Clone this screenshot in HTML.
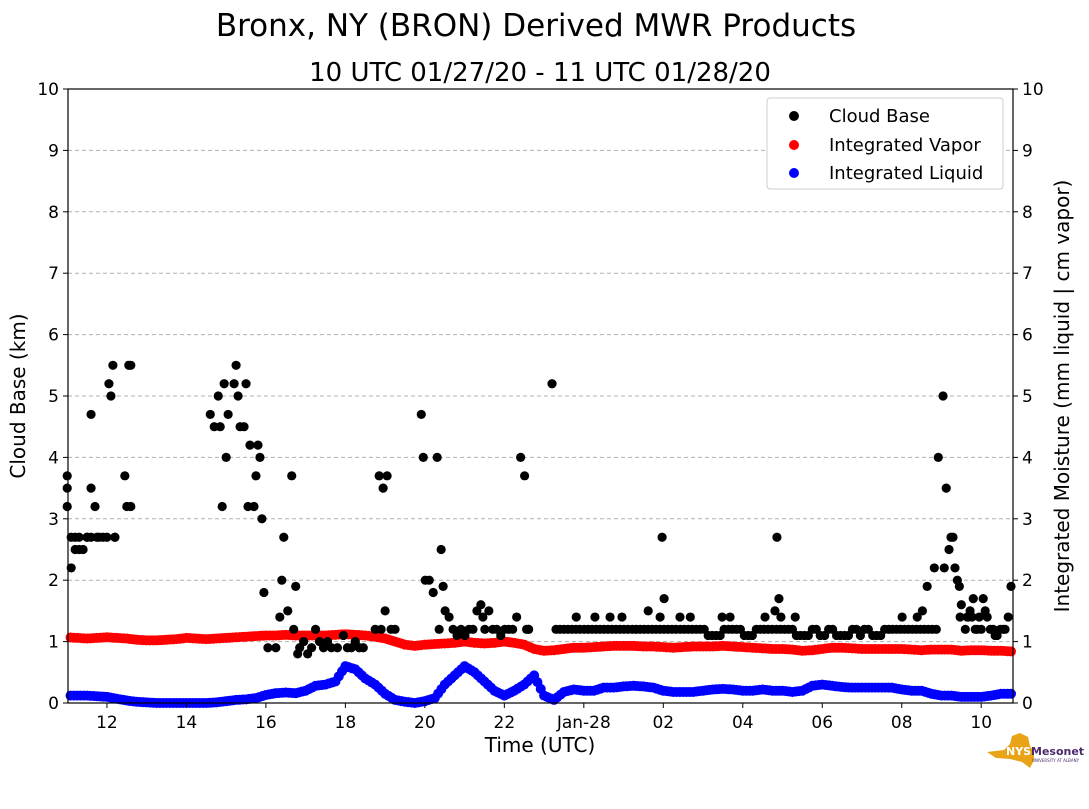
<!DOCTYPE html>
<html><head><meta charset="utf-8"><style>
body{margin:0;background:#fff;}
svg text{font-family:"DejaVu Sans","Liberation Sans",sans-serif;}
</style></head><body>
<svg id="chart" width="1089" height="804" xmlns="http://www.w3.org/2000/svg">
<text x="536" y="36" font-size="31" text-anchor="middle">Bronx, NY (BRON) Derived MWR Products</text>
<text x="540" y="81" font-size="26" text-anchor="middle">10 UTC 01/27/20 - 11 UTC 01/28/20</text>
<g id="grid"></g>
<g id="marks"></g>
<g id="axes"></g>
<text transform="translate(25,396) rotate(-90)" font-size="20" text-anchor="middle">Cloud Base (km)</text>
<text transform="translate(1069,396) rotate(-90)" font-size="20" text-anchor="middle">Integrated Moisture (mm liquid | cm vapor)</text>
<text x="540" y="752" font-size="20" text-anchor="middle">Time (UTC)</text>
<g>
<rect x="767" y="98" width="236" height="91" rx="3" fill="#fff" stroke="#ccc"/>
<g><circle cx="794" cy="116" r="5" fill="#000"/><text x="829" y="122" font-size="18">Cloud Base</text></g>
<g><circle cx="794" cy="145" r="5" fill="#f00"/><text x="829" y="151" font-size="18">Integrated Vapor</text></g>
<g><circle cx="794" cy="173" r="5" fill="#00f"/><text x="829" y="179" font-size="18">Integrated Liquid</text></g>
</g>
<g>
<path d="M987 752 L1004 750 L1010 744 L1012 736 L1020 733 L1028 737 L1030 746 L1034 752 L1034 760 L1030 768 L1022 762 L1010 759 L996 758 Z" fill="#e8a317"/>
<text x="1006" y="755" font-size="11" font-weight="bold" fill="#fff">NYS</text>
<text x="1031" y="755" font-size="11" font-weight="bold" fill="#4b2a6b">Mesonet</text>
<text x="1032" y="762" font-size="4" fill="#4b2a6b">UNIVERSITY AT ALBANY</text>
</g>
</svg>
<script>
const xTickLabels=["12","14","16","18","20","22","Jan-28","02","04","06","08","10"];
const xTickHours=[12,14,16,18,20,22,24,26,28,30,32,34];
const yTicks=[0,1,2,3,4,5,6,7,8,9,10];
const vaporStart=11, vaporStep=0.25;
const vapor=[1.07,1.06,1.05,1.06,1.07,1.06,1.05,1.03,1.02,1.02,1.03,1.04,1.06,1.05,1.04,1.05,1.06,1.07,1.08,1.09,1.1,1.1,1.11,1.1,1.1,1.1,1.1,1.11,1.12,1.11,1.1,1.08,1.05,1.0,0.95,0.93,0.95,0.96,0.97,0.98,1.0,0.98,0.97,0.98,1.0,0.98,0.95,0.88,0.85,0.86,0.88,0.9,0.9,0.91,0.92,0.93,0.93,0.93,0.92,0.92,0.91,0.9,0.91,0.92,0.92,0.92,0.93,0.92,0.91,0.9,0.89,0.88,0.88,0.87,0.85,0.86,0.88,0.9,0.9,0.89,0.88,0.88,0.88,0.88,0.88,0.87,0.86,0.87,0.87,0.87,0.85,0.86,0.86,0.85,0.85,0.84,0.84];
const liquid=[0.12,0.12,0.12,0.11,0.1,0.07,0.04,0.02,0.01,0,0,0,0,0,0,0.01,0.03,0.05,0.06,0.08,0.13,0.16,0.17,0.16,0.2,0.28,0.3,0.35,0.6,0.55,0.4,0.3,0.15,0.05,0.02,0,0.03,0.08,0.3,0.45,0.6,0.5,0.35,0.2,0.12,0.2,0.3,0.45,0.12,0.05,0.18,0.22,0.2,0.2,0.25,0.25,0.27,0.28,0.27,0.25,0.2,0.18,0.18,0.18,0.2,0.22,0.23,0.22,0.2,0.2,0.22,0.2,0.2,0.18,0.2,0.28,0.3,0.28,0.26,0.25,0.25,0.25,0.25,0.25,0.22,0.2,0.2,0.15,0.12,0.12,0.1,0.1,0.1,0.12,0.15,0.15,0.13];
const cbTime=[11,11,11,11.1,11.1,11.2,11.3,11.4,11.5,11.6,11.2,11.3,11.5,11.6,11.6,11.7,11.75,11.8,11.9,12,12.05,12.1,12.15,12.2,12.2,12.45,12.5,12.55,12.6,12.6,
14.6,14.7,14.8,14.85,14.9,14.95,15.0,15.05,15.2,15.25,15.3,15.35,15.45,15.5,15.55,15.6,15.7,15.75,15.8,15.85,15.9,
15.95,16.05,16.25,16.35,16.4,16.45,16.55,16.65,16.7,16.75,16.8,16.85,16.95,17.05,17.15,17.25,17.35,17.45,17.55,17.65,17.8,17.95,18.05,18.15,18.25,18.35,18.45,18.75,18.85,18.9,18.95,19.0,19.05,19.15,19.25,
19.91,19.96,20.01,20.11,20.21,20.31,20.36,20.41,20.46,20.51,20.61,20.71,20.81,20.91,21.01,21.11,21.21,21.31,21.41,21.46,21.51,21.61,21.71,21.81,21.91,22.01,22.11,22.21,22.31,22.41,22.51,22.56,22.61,22.61,
23.20,
23.30,23.50,23.70,23.90,24.11,24.31,24.51,24.71,24.91,25.11,25.32,25.52,25.72,25.92,26.12,26.32,26.53,26.73,26.93,27.13,27.33,27.53,27.74,27.94,28.14,28.34,28.54,28.74,28.95,29.15,29.35,29.55,29.75,29.95,30.16,30.36,30.56,30.76,30.96,31.16,31.37,31.57,31.77,31.97,32.17,32.37,32.57,32.77,
23.40,23.60,23.80,24.01,24.21,24.41,24.61,24.81,25.01,25.22,25.42,25.62,25.82,26.02,26.22,26.43,26.63,26.83,27.03,27.23,27.43,27.64,27.84,28.04,28.24,28.44,28.64,28.85,29.05,29.25,29.45,29.65,29.85,30.06,30.26,30.46,30.66,30.86,31.06,31.27,31.47,31.67,31.87,32.07,32.27,32.47,32.67,32.87,
23.81,24.28,24.66,24.96,25.62,25.92,25.97,26.02,26.42,26.68,27.48,27.68,28.56,28.81,28.86,28.91,28.96,29.32,
32.01,32.39,32.52,32.64,32.82,32.92,33.04,33.07,33.12,33.19,33.24,33.29,33.34,33.40,33.45,33.50,33.47,33.60,33.67,33.72,33.77,33.80,33.85,33.95,34.05,34.10,34.15,34.23,34.35,34.48,34.60,34.68,34.75,
33.65,33.9,34.0,34.3,34.4,34.55];
const cbValue=[3.7,3.5,3.2,2.7,2.2,2.5,2.7,2.5,2.7,3.5,2.7,2.5,2.7,4.7,2.7,3.2,2.7,2.7,2.7,2.7,5.2,5.0,5.5,2.7,2.7,3.7,3.2,5.5,3.2,5.5,
4.7,4.5,5.0,4.5,3.2,5.2,4.0,4.7,5.2,5.5,5.0,4.5,4.5,5.2,3.2,4.2,3.2,3.7,4.2,4.0,3.0,
1.8,0.9,0.9,1.4,2.0,2.7,1.5,3.7,1.2,1.9,0.8,0.9,1.0,0.8,0.9,1.2,1.0,0.9,1.0,0.9,0.9,1.1,0.9,0.9,1.0,0.9,0.9,1.2,3.7,1.2,3.5,1.5,3.7,1.2,1.2,
4.7,4.0,2.0,2.0,1.8,4.0,1.2,2.5,1.9,1.5,1.4,1.2,1.1,1.2,1.1,1.2,1.2,1.5,1.6,1.4,1.2,1.5,1.2,1.2,1.1,1.2,1.2,1.2,1.4,4.0,3.7,1.2,1.2,1.2,
5.2,
1.2,1.2,1.2,1.2,1.2,1.2,1.2,1.2,1.2,1.2,1.2,1.2,1.2,1.2,1.2,1.2,1.2,1.2,1.2,1.1,1.1,1.2,1.2,1.2,1.1,1.2,1.2,1.2,1.2,1.2,1.1,1.1,1.2,1.1,1.2,1.1,1.1,1.2,1.1,1.2,1.1,1.2,1.2,1.2,1.2,1.2,1.2,1.2,
1.2,1.2,1.2,1.2,1.2,1.2,1.2,1.2,1.2,1.2,1.2,1.2,1.2,1.2,1.2,1.2,1.2,1.2,1.2,1.1,1.1,1.2,1.2,1.1,1.1,1.2,1.2,1.2,1.2,1.2,1.1,1.1,1.2,1.1,1.2,1.1,1.1,1.2,1.2,1.1,1.1,1.2,1.2,1.2,1.2,1.2,1.2,1.2,
1.4,1.4,1.4,1.4,1.5,1.4,2.7,1.7,1.4,1.4,1.4,1.4,1.4,1.5,2.7,1.7,1.4,1.4,
1.4,1.4,1.5,1.9,2.2,4.0,5.0,2.2,3.5,2.5,2.7,2.7,2.2,2.0,1.9,1.6,1.4,1.2,1.4,1.5,1.4,1.7,1.2,1.4,1.7,1.5,1.4,1.2,1.1,1.2,1.2,1.4,1.9,
1.4,1.2,1.2,1.2,1.1,1.2];
const L=68,R=1013,T=89,B=703,t0=11.02,t1=34.8;
const xs=t=>L+(t-t0)/(t1-t0)*(R-L);
const ys=v=>B-v/10*(B-T);
const NS="http://www.w3.org/2000/svg";
function mk(tag,parent,attrs){const e=document.createElementNS(NS,tag);for(const k in attrs)e.setAttribute(k,attrs[k]);document.getElementById(parent).appendChild(e);return e;}
yTicks.forEach(v=>{
  if(v>0&&v<10){const g=mk('line','grid',{x1:L,x2:R,y1:ys(v),y2:ys(v),stroke:'#b0b0b0','stroke-dasharray':'4,3','stroke-width':1});
  
  }
  const tl=mk('line','axes',{x1:L-5,x2:L,y1:ys(v),y2:ys(v),stroke:'#000'});
  
  
  const tr=mk('line','axes',{x1:R,x2:R+5,y1:ys(v),y2:ys(v),stroke:'#000'});
  
  
  const a=mk('text','axes',{x:L-9,y:ys(v)+6,'font-size':17,'text-anchor':'end'});a.textContent=v;
  
  
  const b=mk('text','axes',{x:R+9,y:ys(v)+6,'font-size':17});b.textContent=v;
  
  
});
xTickHours.forEach((h,i)=>{
  const t=mk('line','axes',{x1:xs(h),x2:xs(h),y1:B,y2:B+5,stroke:'#000'});
  
  
  const l=mk('text','axes',{x:xs(h),y:B+25,'font-size':17,'text-anchor':'middle'});l.textContent=xTickLabels[i];
  
  
});
const frame=mk('rect','axes',{x:L,y:T,width:R-L,height:B-T,fill:'none',stroke:'#000','stroke-width':1.2});


function series(arr,color,name){
  for(let i=0;i<arr.length;i++){const t0i=vaporStart+i*vaporStep;
    for(let k=0;k<3;k++){const t=t0i+k*vaporStep/3;if(t>t1||t<t0)continue;
      const nv=i+1<arr.length?arr[i+1]:arr[i];const v=arr[i]+(nv-arr[i])*k/3;
      const c=mk('circle','marks',{cx:xs(t),cy:ys(v),r:5,fill:color});
      
      }}
}
series(vapor,'#f00','vapor-point');
series(liquid,'#00f','liquid-point');
cbTime.forEach((t,i)=>{const c=mk('circle','marks',{cx:xs(t),cy:ys(cbValue[i]),r:4.6,fill:'#000'});
  
  });
</script>
</body></html>
